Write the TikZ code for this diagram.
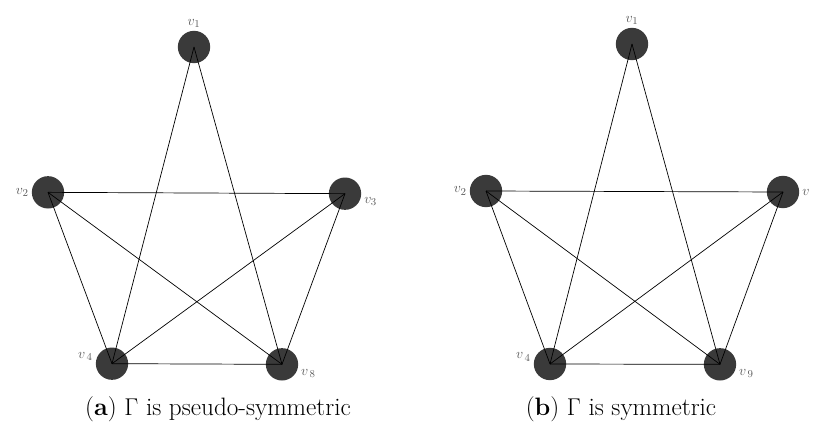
\documentclass[tikz,border=0pt]{standalone}
\usepackage{amsmath}
\usepackage{tikz}
\usetikzlibrary{
  calc % 坐标计算
}
\definecolor{vtxgray}{HTML}{3A3A3A}
\definecolor{lblgray}{HTML}{5A5A5A}

\begin{document}
\begin{tikzpicture}[x=1cm, y=1cm,
  vtx/.style={circle, fill=vtxgray, draw=none, minimum size=0.97cm, inner sep=0pt},
  lbl/.style={text=lblgray, font=\fontsize{13}{15}\selectfont, inner sep=1pt},
  edge/.style={line width=0.6pt, black},
  captxt/.style={font=\fontsize{21.5}{25}\selectfont}]
  \useasboundingbox (0, 0) rectangle (24.51, 12.69);

  % === 左图 (a) 顶点 ===
  \node[vtx, label={[lbl, label distance=0.05cm]above:$v_1$}] (a1) at (5.82, 11.28) {};
  \node[vtx, label={[lbl, label distance=0.05cm]left:$v_2$}]  (a2) at (1.44, 6.92) {};
  \node[vtx, label={[lbl, label distance=0.05cm]-8:$v_3$}]    (a3) at (10.35, 6.88) {};
  \node[vtx, label={[lbl, label distance=0.05cm]175:$v_{\,4}$}] (a4) at (3.36, 1.78) {};
  \node[vtx, label={[lbl, label distance=0.05cm]-12:$v_{\,8}$}] (a8) at (8.46, 1.76) {};

  % 左图边（画在顶点之上）
  \draw[edge] (a1.center) -- (a4.center);
  \draw[edge] (a1.center) -- (a8.center);
  \draw[edge] (a2.center) -- (a3.center);
  \draw[edge] (a2.center) -- (a4.center);
  \draw[edge] (a2.center) -- (a8.center);
  \draw[edge] (a3.center) -- (a4.center);
  \draw[edge] (a3.center) -- (a8.center);
  \draw[edge] (a4.center) -- (a8.center);

  \node[captxt] (capa) at (6.54, 0.40) {(\textbf{a}) $\Gamma$ is pseudo-symmetric};

  % === 右图 (b) 顶点 ===
  \node[vtx, label={[lbl, label distance=0.05cm]above:$v_1$}] (b1) at (18.96, 11.37) {};
  \node[vtx, label={[lbl, label distance=0.05cm]left:$v_2$}]  (b2) at (14.58, 6.96) {};
  \node[vtx, label={[lbl, label distance=0.05cm]right:$v$}]   (b3) at (23.49, 6.93) {};
  \node[vtx, label={[lbl, label distance=0.05cm]175:$v_{\,4}$}] (b4) at (16.50, 1.77) {};
  \node[vtx, label={[lbl, label distance=0.05cm]-12:$v_{\,9}$}] (b9) at (21.60, 1.76) {};

  % 右图边
  \draw[edge] (b1.center) -- (b4.center);
  \draw[edge] (b1.center) -- (b9.center);
  \draw[edge] (b2.center) -- (b3.center);
  \draw[edge] (b2.center) -- (b4.center);
  \draw[edge] (b2.center) -- (b9.center);
  \draw[edge] (b3.center) -- (b4.center);
  \draw[edge] (b3.center) -- (b9.center);
  \draw[edge] (b4.center) -- (b9.center);

  \node[captxt] (capb) at (18.63, 0.40) {(\textbf{b}) $\Gamma$ is symmetric};
\end{tikzpicture}
\end{document}
